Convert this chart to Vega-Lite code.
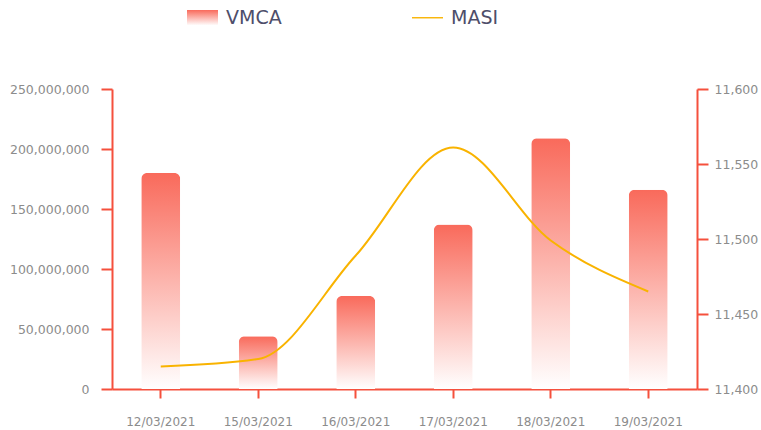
{
  "$schema": "https://vega.github.io/schema/vega-lite/v6.json",
  "width": 585,
  "height": 300,
  "autosize": {"type": "none"},
  "padding": {"left": 112, "top": 89, "right": 64, "bottom": 41},
  "background": "white",
  "config": {
    "view": {"stroke": null},
    "font": "DejaVu Sans",
    "axis": {
      "domainColor": "#f5503d",
      "tickColor": "#f5503d",
      "domainWidth": 2,
      "tickWidth": 2,
      "tickSize": 10,
      "labelColor": "#8c8c8c",
      "labelFont": "DejaVu Sans",
      "labelFontSize": 12,
      "grid": false,
      "title": null,
      "zindex": 1
    }
  },
  "data": {
    "values": [
      {"date": "12/03/2021", "VMCA": 180000000, "MASI": 11415},
      {"date": "15/03/2021", "VMCA": 44000000, "MASI": 11420},
      {"date": "16/03/2021", "VMCA": 77500000, "MASI": 11489},
      {"date": "17/03/2021", "VMCA": 137000000, "MASI": 11561},
      {"date": "18/03/2021", "VMCA": 209000000, "MASI": 11499},
      {"date": "19/03/2021", "VMCA": 166000000, "MASI": 11465}
    ]
  },
  "encoding": {
    "x": {
      "field": "date",
      "type": "ordinal",
      "sort": null,
      "scale": {"paddingInner": 0.6, "paddingOuter": 0.3},
      "axis": {"labelAngle": 0, "labelFontSize": 12, "labelPadding": 18, "tickSize": 9}
    }
  },
  "layer": [
    {
      "mark": {
        "type": "bar",
        "cornerRadiusTopLeft": 6,
        "cornerRadiusTopRight": 6,
        "color": {
          "gradient": "linear",
          "x1": 0, "y1": 0, "x2": 0, "y2": 1,
          "stops": [
            {"offset": 0, "color": "#f96a5b"},
            {"offset": 1, "color": "#ffffff"}
          ]
        }
      },
      "encoding": {
        "y": {
          "field": "VMCA",
          "type": "quantitative",
          "scale": {"domain": [0, 250000000], "nice": false},
          "axis": {"orient": "left", "values": [0, 50000000, 100000000, 150000000, 200000000, 250000000], "format": ",d", "labelPadding": 12, "tickSize": 11, "labelFontSize": 12.5}
        }
      }
    },
    {
      "mark": {"type": "line", "interpolate": "monotone", "strokeWidth": 2},
      "encoding": {
        "y": {
          "field": "MASI",
          "type": "quantitative",
          "scale": {"domain": [11400, 11600], "nice": false, "zero": false},
          "axis": {"orient": "right", "values": [11400, 11450, 11500, 11550, 11600], "format": ",d", "labelPadding": 6, "tickSize": 11, "labelFontSize": 12.5}
        },
        "color": {
          "datum": "MASI",
          "type": "nominal",
          "scale": {"domain": ["VMCA", "MASI"], "range": ["#f96a5b", "#f9b300"]},
          "legend": {
            "title": null,
            "orient": "none",
            "direction": "horizontal",
            "legendX": 75,
            "legendY": -87,
            "padding": 0,
            "columnPadding": 130,
            "labelOffset": 8,
            "labelFontSize": 19,
            "labelColor": "#4e4e6a",
            "labelFont": "DejaVu Sans",
            "symbolSize": 961,
            "symbolStrokeWidth": 0,
            "encode": {
              "symbols": {
                "update": {
                  "shape": {"signal": "datum.value === 'VMCA' ? 'M-1,-0.5H1V0.5H-1Z' : 'M-1,-0.045H1V0.045H-1Z'"},
                  "fill": {"signal": "datum.value === 'VMCA' ? {gradient: 'linear', x1: 0, y1: 0, x2: 0, y2: 1, stops: [{offset: 0, color: '#f96a5b'}, {offset: 1, color: '#ffffff'}]} : '#f9b300'"},
                  "size": {"value": 961}
                }
              }
            }
          }
        }
      }
    }
  ],
  "resolve": {"scale": {"y": "independent"}}
}
